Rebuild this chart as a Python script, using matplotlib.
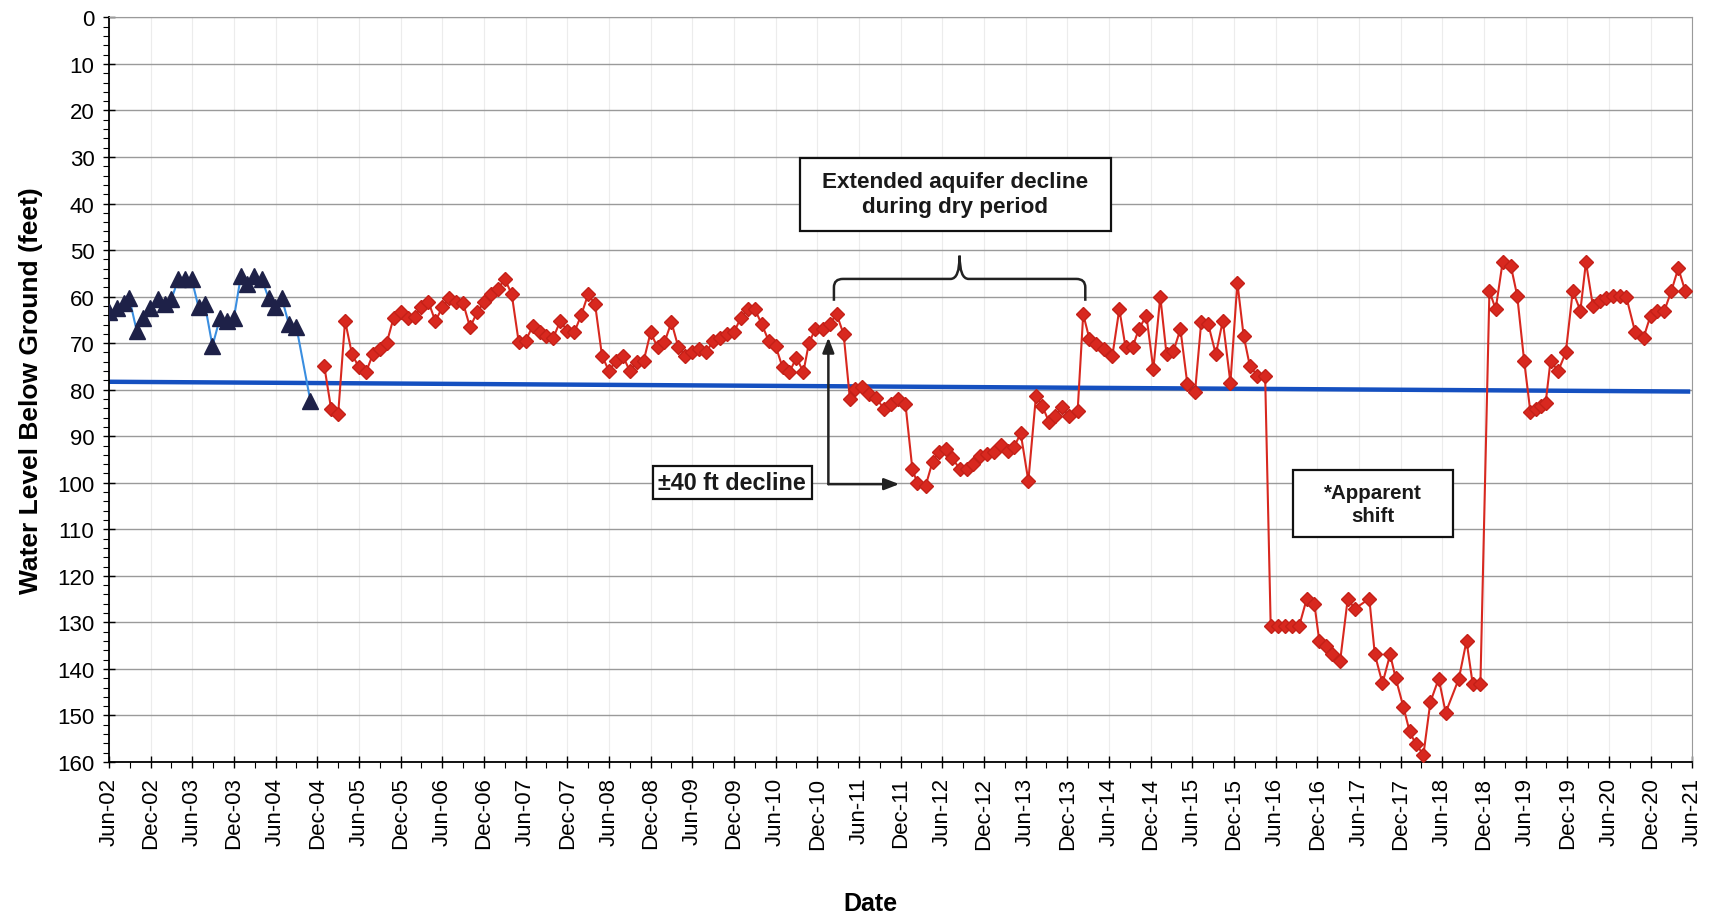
"""
Water level hydrograph: depth to water below ground, Jun-02 to Jun-21.
"""

import matplotlib
matplotlib.use('Agg')
import matplotlib.pyplot as plt
from matplotlib import font_manager
from matplotlib.path import Path
from matplotlib.patches import PathPatch, Rectangle
from matplotlib.ticker import MultipleLocator, FixedLocator

# months since Jun-2002, water level below ground (ft)
tri_months = [0, 1.1, 2.1, 2.9, 4.0, 4.9, 5.9, 7.0, 8.1, 9.0, 10.0, 11.0, 11.9,
              12.9, 13.8, 14.9, 16.0, 17.0, 18.0, 19.0, 19.9, 20.9, 22.0, 23.0,
              23.9, 24.9, 25.9, 27.0, 29.0]
tri_level = [63.4, 62.5, 61.4, 60.2, 67.4, 64.5, 62.5, 60.5, 61.6, 60.5, 56.2,
             56.2, 56.2, 62.3, 61.6, 70.6, 64.5, 65.2, 64.5, 55.5, 57.3, 55.5,
             56.2, 60.4, 62.3, 60.4, 65.9, 66.6, 82.4]

red_months = [31, 32, 33, 34, 35, 36, 37, 38, 39, 40, 41, 42, 43, 44, 45, 46,
              47, 48, 49, 50, 51, 52, 53, 54, 55, 56, 57, 58, 59, 60, 61, 62,
              63, 64, 65, 66, 67, 68, 69, 70, 71, 72, 73, 74, 75, 76, 77, 78,
              79, 80, 81, 82, 83, 84, 85, 86, 87, 88, 89, 90, 91, 92, 93, 94,
              95, 96, 97, 98, 99, 100, 100.8, 101.7, 102.8, 103.8, 104.8, 105.8,
              106.7, 107.5, 108.5, 109.4, 110.5, 111.6, 112.6, 113.6, 114.7,
              115.7, 116.4, 117.6, 118.6, 119.5, 120.5, 121.4, 122.5, 123.5,
              124.5, 125.4, 126.4, 127.4, 128.4, 129.4, 130.3, 131.3, 132.4,
              133.5, 134.4, 135.4, 136.3, 137.3, 138.2, 139.5, 140.3, 141.2,
              142.1, 143.3, 144.5, 145.5, 146.4, 147.4, 148.3, 149.4, 150.4,
              151.4, 152.3, 153.3, 154.3, 155.3, 156.4, 157.3, 158.3, 159.4,
              160.4, 161.5, 162.5, 163.4, 164.3, 165.4, 166.5, 167.3, 168.3,
              169.3, 170.3, 171.4, 172.5, 173.6, 174.3, 175.3, 176.2, 177.3,
              178.4, 179.4, 181.5, 182.3, 183.4, 184.5, 185.3, 186.4, 187.3,
              188.2, 189.3, 190.3, 191.5, 192.5, 194.4, 195.5, 196.4, 197.5,
              198.8, 199.7, 200.7, 201.9, 202.8, 203.8, 204.7, 205.5, 206.2,
              206.9, 207.6, 208.7, 209.8, 210.8, 211.9, 212.7, 213.7, 214.7,
              215.6, 216.6, 217.6, 218.5, 219.8, 221.0, 222.0, 222.9, 224.0,
              225.0, 226.0, 227.0]
red_level = [74.9, 84.2, 85.3, 65.2, 72.4, 75.2, 76.3, 72.4, 71.3, 69.9, 64.5,
             63.3, 64.5, 64.3, 62.2, 61.1, 65.3, 62.3, 60.4, 61.1, 61.4, 66.6,
             63.4, 61.2, 59.5, 58.4, 56.2, 59.5, 69.7, 69.5, 66.4, 67.6, 68.4,
             68.8, 65.2, 67.4, 67.7, 64.0, 59.5, 61.6, 72.7, 76.0, 73.8, 72.7,
             76.0, 74.0, 73.8, 67.7, 70.9, 69.8, 65.5, 70.9, 72.7, 72.0, 71.3,
             72.0, 69.5, 68.8, 68.1, 67.7, 64.5, 62.7, 62.7, 65.9, 69.5, 70.6,
             75.2, 76.2, 73.1, 76.2, 70.0, 67.0, 67.0, 65.8, 63.8, 68.1, 82.0,
             79.9, 79.5, 81.0, 81.7, 84.2, 83.1, 82.0, 83.1, 97.1, 100.0, 100.7,
             95.5, 93.4, 92.8, 94.6, 97.0, 97.0, 96.0, 94.2, 93.9, 93.5, 91.9,
             93.2, 92.4, 89.4, 99.6, 81.3, 83.5, 87.0, 85.6, 83.8, 85.6, 84.5,
             63.8, 69.1, 70.2, 71.3, 72.7, 62.7, 70.9, 70.9, 67.0, 64.1, 75.6,
             60.0, 72.4, 71.7, 67.0, 78.8, 80.6, 65.4, 65.9, 72.4, 65.2, 78.5,
             57.0, 68.4, 74.9, 77.0, 77.0, 130.8, 130.8, 130.8, 130.8, 130.8,
             124.9, 126.1, 134.0, 135.1, 136.9, 138.3, 124.9, 127.1, 124.9,
             136.9, 143.1, 136.9, 142.0, 148.1, 153.4, 156.2, 158.4, 147.1,
             142.1, 149.4, 142.1, 134.0, 143.3, 143.3, 58.8, 62.7, 52.6, 53.5,
             59.8, 73.8, 84.8, 84.2, 83.5, 82.8, 73.8, 76.0, 72.0, 58.8, 63.0,
             52.6, 62.0, 60.9, 60.2, 59.8, 59.8, 60.0, 67.7, 68.8, 64.1, 63.0,
             63.0, 58.8, 53.9, 58.8]

# linear trend line end points
trend_months = [0, 227.4]
trend_level = [78.3, 80.4]

tick_months = list(range(0, 229, 6))
tick_labels = [('Jun-' if i % 2 == 0 else 'Dec-') + f'{2 + i // 2:02d}'
               for i in range(len(tick_months))]

plt.rcParams['font.family'] = ['Liberation Sans', 'DejaVu Sans']
available = {f.name for f in font_manager.fontManager.ttflist}
label_font = 'Liberation Sans Narrow' if 'Liberation Sans Narrow' in available else 'Liberation Sans'

fig = plt.figure(figsize=(17.11, 9.2), dpi=100)
ax = fig.add_axes([0.0637, 0.1707, 0.9253, 0.8093])

ax.plot(trend_months, trend_level, color='#1550c0', lw=3.2, zorder=2)
ax.plot(tri_months, tri_level, color='#3a8ee0', lw=1.5, marker='^',
        markersize=11, markerfacecolor='#1e2148', markeredgecolor='#1e2148',
        zorder=3)
ax.plot(red_months, red_level, color='#d8281f', lw=1.5, marker='D',
        markersize=7, markerfacecolor='#d8281f', markeredgecolor='#c42018',
        zorder=3)

ax.set_xlim(0, 228)
ax.set_ylim(160, 0)
ax.yaxis.set_major_locator(MultipleLocator(10))
ax.yaxis.set_minor_locator(MultipleLocator(2))
ax.xaxis.set_major_locator(FixedLocator(tick_months))
ax.xaxis.set_minor_locator(MultipleLocator(3))
ax.set_xticklabels(tick_labels, rotation=90)
ax.tick_params(axis='both', which='major', labelsize=16, direction='inout',
               length=9, width=1, pad=6)
ax.tick_params(axis='both', which='minor', direction='out', length=4, width=0.8)

ax.grid(axis='y', which='major', color='#9a9a9a', lw=1)
ax.grid(axis='x', which='major', color='#ececec', lw=0.8)
ax.set_axisbelow(True)
for side in ['top', 'right']:
    ax.spines[side].set_color('#9a9a9a')
for side in ['left', 'bottom']:
    ax.spines[side].set_linewidth(1.3)

ax.set_ylabel('Water Level Below Ground (feet)', fontsize=19, fontweight='bold',
              family=label_font, labelpad=10)
ax.set_xlabel('Date', fontsize=18, fontweight='bold', family=label_font)
ax.xaxis.set_label_coords(0.481, -0.173)

# text boxes
def text_box(x0, x1, y0, y1, text, size):
    ax.add_patch(Rectangle((x0, y0), x1 - x0, y1 - y0, facecolor='white',
                           edgecolor='#111111', lw=1.6, zorder=5))
    ax.text((x0 + x1) / 2, (y0 + y1) / 2, text, ha='center', va='center',
            fontsize=size, fontweight='bold', color='#1a1a1a', zorder=6,
            linespacing=1.25)

text_box(99.5, 144.3, 30.3, 45.8, 'Extended aquifer decline\nduring dry period', 16.2)
text_box(78.3, 101.2, 96.4, 103.5, '\u00b140 ft decline', 16.8)
text_box(170.5, 193.6, 97.3, 111.7, '*Apparent\nshift', 14.8)

# curly brace over the dry period
xl, xr, xc = 104.4, 140.6, 122.5
y_end, y_h, y_pk = 60.9, 56.2, 51.2
dx, dy = 1.3, 1.8
verts = [(xl, y_end), (xl, y_h + dy), (xl, y_h), (xl + dx, y_h),
         (xc - dx, y_h), (xc, y_h), (xc, y_pk),
         (xc, y_h), (xc + dx, y_h),
         (xr - dx, y_h), (xr, y_h), (xr, y_h + dy), (xr, y_end)]
codes = [Path.MOVETO, Path.LINETO, Path.CURVE3, Path.CURVE3,
         Path.LINETO, Path.CURVE3, Path.CURVE3,
         Path.CURVE3, Path.CURVE3,
         Path.LINETO, Path.CURVE3, Path.CURVE3, Path.LINETO]
ax.add_patch(PathPatch(Path(verts, codes), facecolor='none',
                       edgecolor='#222222', lw=1.8, zorder=4))

# elbow arrow for the decline
corner = (103.6, 100.3)
arrow = dict(arrowstyle='-|>,head_length=0.9,head_width=0.35', color='#222222',
             lw=1.8, shrinkA=0, shrinkB=0)
ax.annotate('', xy=(103.6, 68.8), xytext=corner, arrowprops=arrow, zorder=4)
ax.annotate('', xy=(113.8, 100.3), xytext=corner, arrowprops=arrow, zorder=4)

fig.savefig('out.png', dpi=100)
plt.close(fig)
